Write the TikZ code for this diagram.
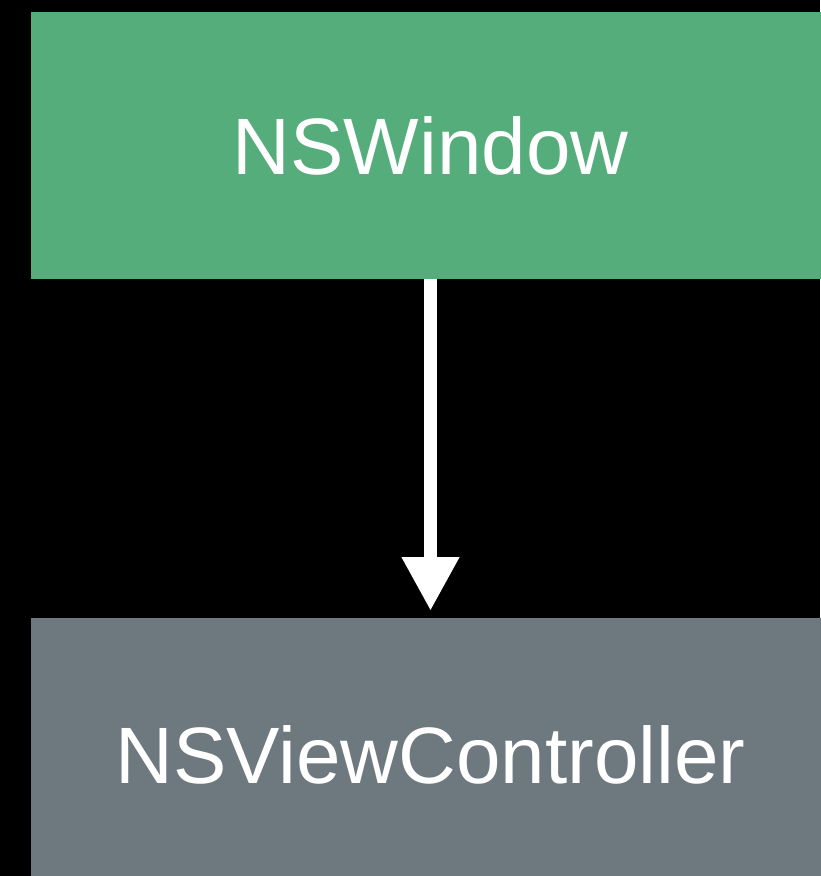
\documentclass[tikz,border=0pt]{standalone}
\usepackage{fontspec}
\setmainfont{Liberation Sans}
\usetikzlibrary{arrows.meta}
\definecolor{winGreen}{RGB}{85,173,123}
\definecolor{vcGray}{RGB}{110,121,127}
\begin{document}
\begin{tikzpicture}[x=1pt,y=-1pt,
  box/.style={rectangle, inner sep=0pt, outer sep=0pt, minimum width=799pt,
    text=white, font=\fontsize{80}{96}\selectfont},
  link/.style={draw=white, line width=13.5pt,
    -{Triangle[width=54pt,length=54pt]}, shorten >=7pt}]
  % page frame and black backdrop
  \fill[black] (0,0) rectangle (820,876);
  \useasboundingbox (0,0) rectangle (820,876);
  % the two class boxes, running past the right edge
  \node[box, fill=winGreen, minimum height=267pt] (win) at (430.5,145.5) {NSWindow};
  \node[box, fill=vcGray, minimum height=274pt] (vc) at (430.5,755) {NSViewController};
  % ownership arrow
  \draw[link] (win.south) -- (vc.north);
\end{tikzpicture}
\end{document}
